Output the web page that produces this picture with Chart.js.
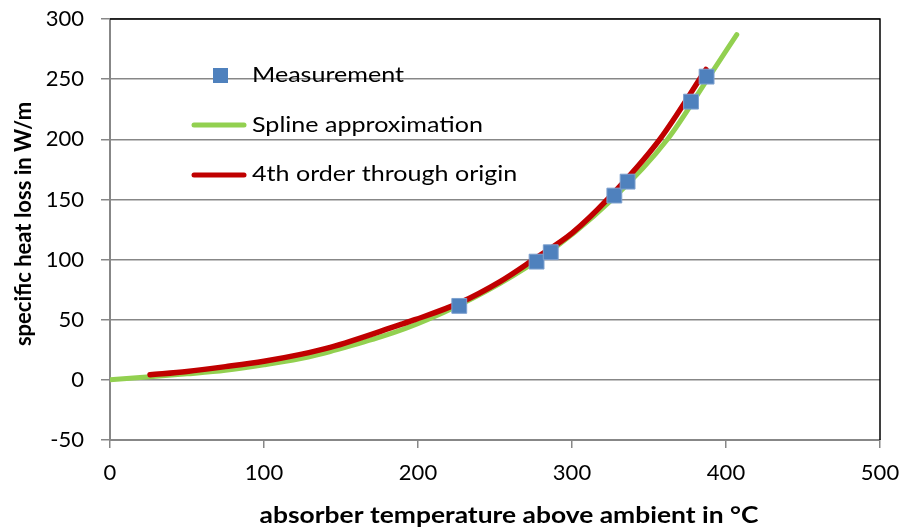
<!DOCTYPE html>
<html>
<head>
<meta charset="utf-8">
<title>Specific heat loss</title>
<script src="https://cdn.jsdelivr.net/npm/chart.js@4.4.0/dist/chart.umd.min.js"></script>
<style>
html,body{margin:0;padding:0;background:#fff;}
#wrap{width:902px;height:529px;}
</style>
</head>
<body>
<div id="wrap"><canvas id="heatLossChart" width="902" height="529"></canvas></div>
<script>
// measured points (absorber temperature above ambient / heat loss in W/m)
const measuredTemp = [226.8, 277.0, 286.2, 327.5, 336.1, 377.3, 387.4];
const measuredLoss = [61.5, 98.3, 106.1, 153.2, 164.8, 231.3, 252.1];

// spline approximation
const splineTemp = [0, 26, 50, 75, 100, 123, 143, 206, 278, 326, 362, 388, 407];
const splineLoss = [0, 2.5, 5, 8, 12.5, 17.5, 23.5, 50, 100, 150, 200, 250, 287];

// 4th order polynomial fit through origin
const polyTemp = [26, 50, 75, 100, 123, 143, 188, 198, 227, 253, 275, 300, 323, 357, 387];
const polyLoss = [4.2, 7, 11, 15.5, 21, 27, 45.7, 50, 64, 81.5, 100, 122, 150, 200, 258];

const xTicks = [0, 100, 200, 300, 400, 500];
const yTicks = [-50, 0, 50, 100, 150, 200, 250, 300];

const seriesNames = ["Measurement", "Spline approximation", "4th order through origin"];

const X_TITLE = "absorber temperature above ambient in °C";
const Y_TITLE = "specific heat loss in W/m";

const GRID_GREY = "#878787";
const FONT = "Lato";

function toPoints(xs, ys){
    return xs.map((x, i) => ({x: x, y: ys[i]}));
}

// text drawn a little wider than the font's natural width
function wideText(ctx, text, x, y, stretch){
    ctx.save();
    ctx.translate(x, y);
    ctx.scale(stretch, 1);
    ctx.fillText(text, 0, 0);
    ctx.restore();
}

// frame, axis titles and the legend inside the plot
const chartExtras = {
    id: "chartExtras",
    afterDraw(chart){
        const ctx = chart.ctx;
        const area = chart.chartArea;
        ctx.save();

        ctx.strokeStyle = "#000";
        ctx.lineWidth = 1.5;
        ctx.beginPath();
        ctx.moveTo(area.left, area.top);
        ctx.lineTo(area.right, area.top);
        ctx.lineTo(area.right, area.bottom);
        ctx.stroke();

        // axis titles
        ctx.fillStyle = "#000";
        ctx.font = "bold 22px " + FONT;
        ctx.textAlign = "center";
        ctx.textBaseline = "middle";
        wideText(ctx, X_TITLE, 509, 516, 1.2);

        ctx.save();
        ctx.translate(24, 224);
        ctx.rotate(-Math.PI / 2);
        ctx.fillText(Y_TITLE, 0, 0);
        ctx.restore();

        // legend
        const ds = chart.data.datasets;
        ctx.font = "22px " + FONT;
        ctx.textAlign = "left";

        ctx.fillStyle = ds[0].backgroundColor;
        ctx.fillRect(213, 68, 15, 15);
        ctx.fillStyle = "#000";
        wideText(ctx, seriesNames[0], 252, 75, 1.14);

        ctx.lineCap = "round";
        ctx.lineWidth = 5;
        ctx.strokeStyle = ds[2].borderColor;
        ctx.beginPath();
        ctx.moveTo(194, 125);
        ctx.lineTo(244, 125);
        ctx.stroke();
        wideText(ctx, seriesNames[1], 252, 125, 1.14);

        ctx.strokeStyle = ds[1].borderColor;
        ctx.beginPath();
        ctx.moveTo(194, 175);
        ctx.lineTo(244, 175);
        ctx.stroke();
        wideText(ctx, seriesNames[2], 252, 174, 1.14);

        ctx.restore();
    }
};

const ctx = document.getElementById("heatLossChart").getContext("2d");

new Chart(ctx, {
    type: "scatter",
    data: {
        datasets: [
            {
                label: seriesNames[0],
                data: toPoints(measuredTemp, measuredLoss),
                showLine: false,
                pointStyle: "rect",
                pointRadius: 10.5,
                backgroundColor: "#4F81BD",
                borderColor: "#7EA1CF",
                borderWidth: 1
            },
            {
                label: seriesNames[2],
                data: toPoints(polyTemp, polyLoss),
                showLine: true,
                pointRadius: 0,
                borderColor: "#C00000",
                borderWidth: 5.5,
                borderCapStyle: "round",
                cubicInterpolationMode: "monotone"
            },
            {
                label: seriesNames[1],
                data: toPoints(splineTemp, splineLoss),
                showLine: true,
                pointRadius: 0,
                borderColor: "#92D050",
                borderWidth: 5,
                borderCapStyle: "round",
                cubicInterpolationMode: "monotone"
            }
        ]
    },
    options: {
        responsive: false,
        animation: false,
        layout: {
            padding: {top: 19, right: 22, left: 0, bottom: 0}
        },
        plugins: {
            legend: {display: false},
            tooltip: {enabled: false}
        },
        scales: {
            x: {
                type: "linear",
                min: xTicks[0],
                max: xTicks[xTicks.length - 1],
                afterFit: scale => {
                    scale.height = 89;
                    scale.paddingLeft = 0;
                    scale.paddingRight = 0;
                },
                afterBuildTicks: scale => { scale.ticks = xTicks.map(v => ({value: v})); },
                grid: {
                    drawOnChartArea: false,
                    color: GRID_GREY,
                    lineWidth: 1.5,
                    tickLength: 8
                },
                border: {color: GRID_GREY, width: 2},
                ticks: {
                    padding: 12,
                    color: "#000",
                    font: {family: FONT, size: 22}
                }
            },
            y: {
                type: "linear",
                min: yTicks[0],
                max: yTicks[yTicks.length - 1],
                afterFit: scale => {
                    scale.width = 110;
                    scale.paddingTop = 0;
                    scale.paddingBottom = 0;
                },
                afterBuildTicks: scale => { scale.ticks = yTicks.map(v => ({value: v})); },
                grid: {
                    color: GRID_GREY,
                    lineWidth: 1.5,
                    tickLength: 9
                },
                border: {color: GRID_GREY, width: 2},
                ticks: {
                    padding: 17,
                    color: "#000",
                    font: {family: FONT, size: 22}
                }
            }
        }
    },
    plugins: [chartExtras]
});
</script>
</body>
</html>
